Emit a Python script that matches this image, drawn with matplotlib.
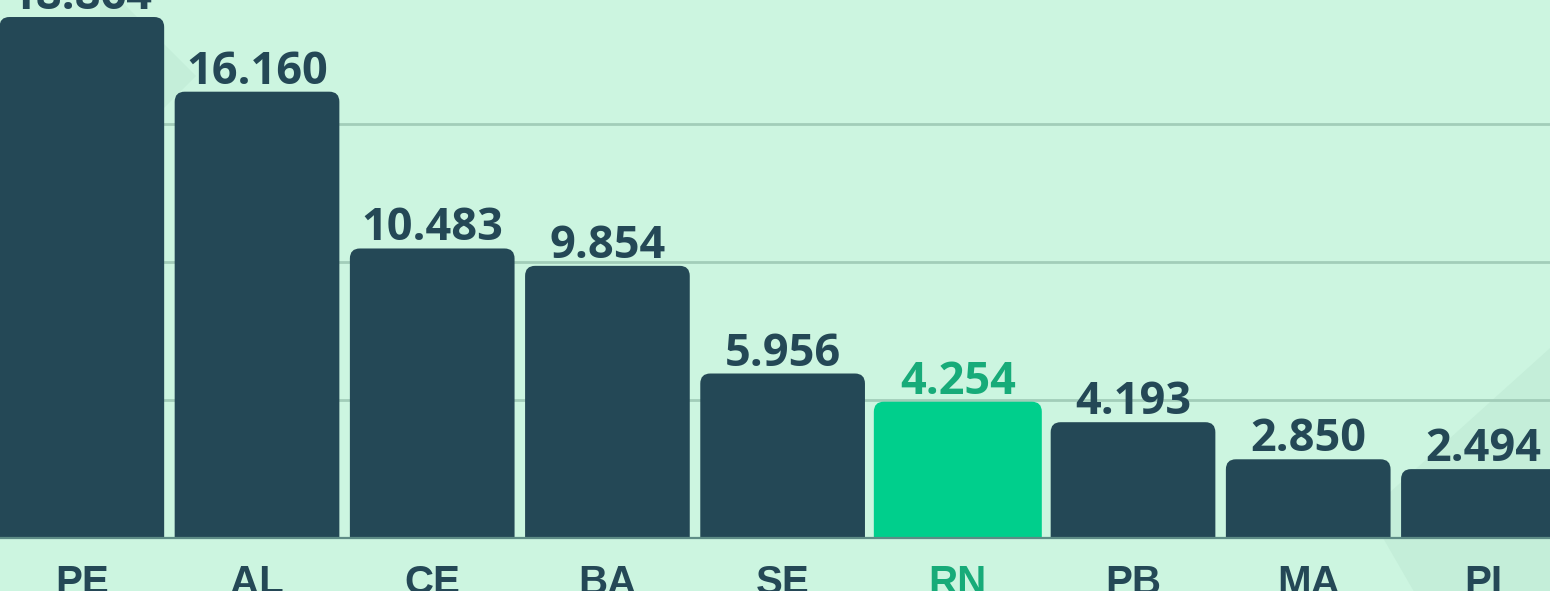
import matplotlib
matplotlib.use("Agg")
import matplotlib.pyplot as plt
from matplotlib.patches import FancyBboxPatch, Polygon

# Data
states = ["PE", "AL", "CE", "BA", "SE", "RN", "PB", "MA", "PI"]
values = [18864, 16160, 10483, 9854, 5956, 4254, 4193, 2850, 2494]
value_labels = ["18.864", "16.160", "10.483", "9.854", "5.956", "4.254", "4.193", "2.850", "2.494"]
highlight = "RN"

# Style
BG = "#CCF5E0"
SHAPE = "#C4EED9"
DARK = "#244856"
GREEN_BAR = "#00CF8C"
GREEN_TEXT = "#17AB79"
GRID = "#A2CDB9"
BASE = "#5E8C86"
HIGHLIGHT_SCALE = 1.16   # the highlighted bar is drawn a bit taller (hover effect)

W, H = 1550, 591
fig = plt.figure(figsize=(W / 100, H / 100), dpi=100, facecolor=BG)

# decorative background diamonds (pixel coords -> figure fraction)
def px(pts):
    return [(x / W, 1 - y / H) for x, y in pts]

for pts in ([(100, -20), (196, 76), (100, 172)],
            [(1368, 512), (1700, 213), (1700, 680), (1465, 680)]):
    fig.patches.append(Polygon(px(pts), closed=True, transform=fig.transFigure,
                               facecolor=SHAPE, edgecolor="none", zorder=-5))

ax = fig.add_axes([0, (H - 538) / H, 1, 538 / H], zorder=2)
ax.set_facecolor("none")
ax.set_xlim(-0.467, 8.38)
ax.set_ylim(0, 19480)
for s in ax.spines.values():
    s.set_visible(False)
ax.set_yticks([5000, 10000, 15000])
ax.yaxis.grid(True, color=GRID, linewidth=2, zorder=0)
ax.set_axisbelow(True)
ax.tick_params(left=False, labelleft=False, bottom=False, labelbottom=False)
ax.axhline(0, color=BASE, linewidth=1.6, zorder=5, clip_on=False)

bar_w = 0.94
rx = 0.057
ry = 365
for i, (st, v, lab) in enumerate(zip(states, values, value_labels)):
    is_hl = st == highlight
    h = v * HIGHLIGHT_SCALE if is_hl else v
    w = bar_w * 1.02 if is_hl else bar_w
    p = FancyBboxPatch((i - w / 2, -2000), w, h + 2000,
                       boxstyle=f"round,pad=0,rounding_size={rx}",
                       mutation_aspect=ry / rx,
                       facecolor=GREEN_BAR if is_hl else DARK,
                       edgecolor="none", zorder=3)
    ax.add_patch(p)
    ax.annotate(lab, xy=(i, h), xytext=(0, 8), textcoords="offset pixels",
                ha="center", va="baseline", fontsize=32.5, fontweight="bold",
                family="Open Sans", color=GREEN_TEXT if is_hl else DARK,
                annotation_clip=False, zorder=4)
    ax.annotate(st, xy=(i, 0), xytext=(0, -56), textcoords="offset pixels",
                ha="center", va="baseline", fontsize=29, fontweight="bold",
                family="Liberation Sans", color=GREEN_TEXT if is_hl else DARK,
                annotation_clip=False)

fig.savefig("out.png", dpi=100, facecolor=BG)
